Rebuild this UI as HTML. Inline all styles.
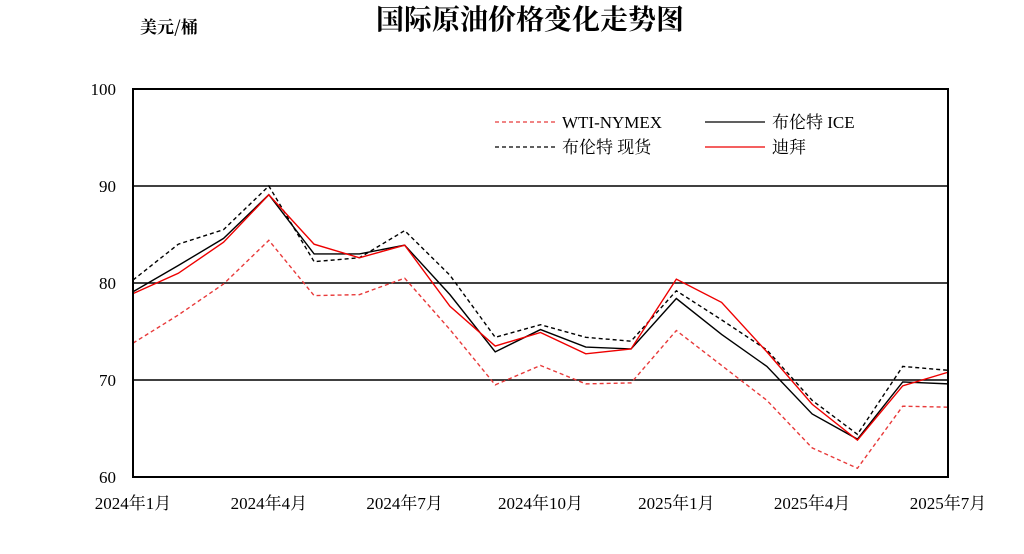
<!DOCTYPE html>
<html><head><meta charset="utf-8"><style>
html,body{margin:0;padding:0;background:#fff;}
svg{display:block;font-family:"Liberation Serif","Noto Serif CJK SC",serif;}
</style></head><body>
<svg width="1024" height="554" viewBox="0 0 1024 554">
<text x="530" y="29" text-anchor="middle" font-size="28" font-weight="bold" font-family="Noto Serif CJK SC, serif">国际原油价格变化走势图</text>
<text x="140" y="33" font-size="17" font-weight="bold" font-family="Noto Serif CJK SC, serif">美元/桶</text>
<g id="grid"></g>
<g id="series"></g>
<rect x="133" y="89" width="815" height="388" fill="none" stroke="#000" stroke-width="2"/>
<g id="ticks" font-size="17"></g>
<g font-size="17">
<line x1="495" y1="122" x2="555" y2="122" stroke="#e83a3a" stroke-width="1.3" stroke-dasharray="4,3"/>
<text x="562" y="128">WTI-NYMEX</text>
<line x1="705" y1="122" x2="765" y2="122" stroke="#000" stroke-width="1.3"/>
<text x="772" y="128">布伦特 ICE</text>
<line x1="495" y1="147" x2="555" y2="147" stroke="#000" stroke-width="1.3" stroke-dasharray="4,3"/>
<text x="562" y="153">布伦特 现货</text>
<line x1="705" y1="147" x2="765" y2="147" stroke="#e00" stroke-width="1.3"/>
<text x="772" y="153">迪拜</text>
</g>
</svg>
<script>
const months = ["2024年1月","2024年2月","2024年3月","2024年4月","2024年5月","2024年6月","2024年7月","2024年8月","2024年9月","2024年10月","2024年11月","2024年12月","2025年1月","2025年2月","2025年3月","2025年4月","2025年5月","2025年6月","2025年7月"];
const wti = [73.8,76.7,79.9,84.4,78.7,78.8,80.5,75.2,69.5,71.5,69.6,69.7,75.1,71.5,67.9,63.0,60.9,67.3,67.2];
const brentIce = [79.1,81.8,84.6,89.1,83.0,83.0,83.9,78.8,72.9,75.2,73.4,73.2,78.4,74.7,71.4,66.5,63.9,69.8,69.6];
const brentSpot = [80.3,84.0,85.5,90.0,82.2,82.6,85.4,80.8,74.4,75.7,74.4,74.0,79.2,76.2,73.1,67.9,64.4,71.4,71.0];
const dubai = [78.9,81.0,84.2,89.1,84.0,82.6,83.9,77.6,73.5,74.9,72.7,73.2,80.4,78.0,72.9,67.5,63.8,69.4,70.8];
const yTicks = [60,70,80,90,100];
const xTickIdx = [0,3,6,9,12,15,18];
const ns="http://www.w3.org/2000/svg";
const X0=133,X1=948,Y0=477,Y1=89,VMIN=60,VMAX=100;
const xs=i=>X0+(X1-X0)*i/(months.length-1);
const ys=v=>Y0-(v-VMIN)/(VMAX-VMIN)*(Y0-Y1);
const grid=document.getElementById('grid'),ticks=document.getElementById('ticks'),ser=document.getElementById('series');
yTicks.forEach(t=>{
 if(t>VMIN&&t<VMAX){const l=document.createElementNS(ns,'line');
 l.setAttribute('x1',X0);l.setAttribute('x2',X1);l.setAttribute('y1',ys(t));l.setAttribute('y2',ys(t));
 l.setAttribute('stroke','#000');l.setAttribute('stroke-width','1.5');
 
 
 grid.appendChild(l);}
 const tx=document.createElementNS(ns,'text');
 tx.setAttribute('x',116);tx.setAttribute('y',ys(t)+6);tx.setAttribute('text-anchor','end');tx.textContent=t;
 
 
 ticks.appendChild(tx);
});
xTickIdx.forEach(i=>{
 const tx=document.createElementNS(ns,'text');
 tx.setAttribute('x',xs(i));tx.setAttribute('y',509);tx.setAttribute('text-anchor','middle');tx.textContent=months[i];
 
 
 ticks.appendChild(tx);
});
function draw(arr,color,dash,name){
 const p=document.createElementNS(ns,'polyline');
 p.setAttribute('points',arr.map((v,i)=>xs(i)+','+ys(v)).join(' '));
 p.setAttribute('fill','none');p.setAttribute('stroke',color);p.setAttribute('stroke-width','1.4');
 if(dash)p.setAttribute('stroke-dasharray','4,3');
 
 
 ser.appendChild(p);
}
draw(wti,'#e83a3a',true,'wti-line');
draw(brentSpot,'#000',true,'brent-spot-line');
draw(brentIce,'#000',false,'brent-ice-line');
draw(dubai,'#e00',false,'dubai-line');
</script>
</body></html>
